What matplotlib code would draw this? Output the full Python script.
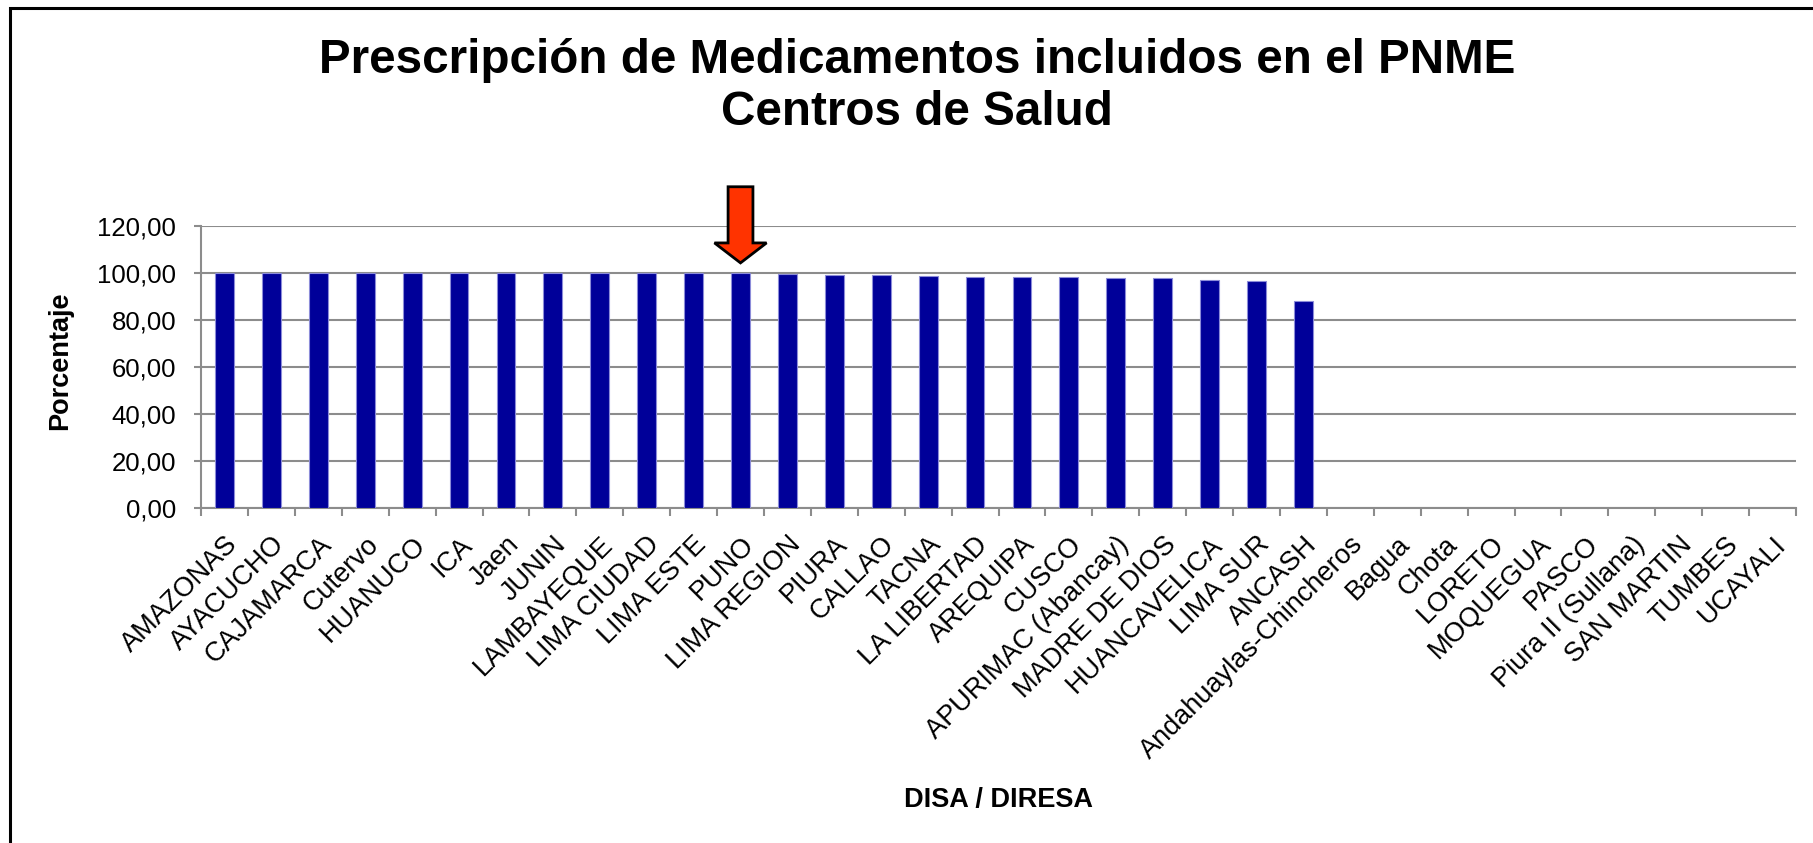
import matplotlib
matplotlib.use("Agg")
import matplotlib.pyplot as plt
from matplotlib.patches import Rectangle, FancyArrow
from matplotlib.ticker import FuncFormatter, MultipleLocator
import numpy as np

plt.rcParams['font.family'] = ['Liberation Sans', 'DejaVu Sans']

categories = ["AMAZONAS", "AYACUCHO", "CAJAMARCA", "Cutervo", "HUANUCO", "ICA", "Jaen",
              "JUNIN", "LAMBAYEQUE", "LIMA CIUDAD", "LIMA ESTE", "PUNO", "LIMA REGION",
              "PIURA", "CALLAO", "TACNA", "LA LIBERTAD", "AREQUIPA", "CUSCO",
              "APURIMAC (Abancay)", "MADRE DE DIOS", "HUANCAVELICA", "LIMA SUR", "ANCASH",
              "Andahuaylas-Chincheros", "Bagua", "Chota", "LORETO", "MOQUEGUA", "PASCO",
              "Piura II (Sullana)", "SAN MARTIN", "TUMBES", "UCAYALI"]
values = [100.0, 100.0, 100.0, 100.0, 100.0, 100.0, 100.0, 100.0, 100.0, 100.0, 100.0,
          100.0, 99.6, 99.2, 99.0, 98.9, 98.3, 98.1, 98.1, 97.9, 97.9, 97.0, 96.4, 87.9]
highlight = "PUNO"

title_1 = "Prescripción de Medicamentos incluidos en el PNME"
title_2 = "Centros de Salud"

fig = plt.figure(figsize=(18.13, 8.43), dpi=100)
ax = fig.add_axes([0.1109, 0.3974, 0.8797, 0.3345])

# outer chart frame (runs off the right and bottom edges)
fig.add_artist(Rectangle((10 / 1813, -0.05), 1.1, 1.05 - 8 / 843, transform=fig.transFigure,
                         fill=False, edgecolor="black", linewidth=2.2))

x = np.arange(len(values))
ax.bar(x, values, width=0.4, color="#000099", edgecolor="#8c8cd9", linewidth=0.8, zorder=3)

ax.set_xlim(-0.5, len(categories) - 0.5)
ax.set_ylim(0, 120)
ax.yaxis.set_major_locator(MultipleLocator(20))
ax.yaxis.set_major_formatter(FuncFormatter(lambda v, p: f"{v:.2f}".replace(".", ",")))
ax.grid(axis="y", color="#8c8c8c", linewidth=1.5, zorder=0)

ax.set_xticks(np.arange(len(categories)))
ax.set_xticklabels(categories, rotation=45, ha="right", va="top", rotation_mode="anchor")
ax.set_xticks(np.arange(len(categories) + 1) - 0.5, minor=True)
ax.tick_params(axis="x", which="major", length=0, pad=17, labelsize=19.5)
ax.tick_params(axis="x", which="minor", length=6, width=1.5, color="#8c8c8c")
ax.tick_params(axis="y", length=5, width=1.5, color="#8c8c8c", pad=13, labelsize=18.5)

for side in ["top", "right"]:
    ax.spines[side].set_visible(False)
for side in ["left", "bottom"]:
    ax.spines[side].set_color("#8c8c8c")
    ax.spines[side].set_linewidth(1.5)

# arrow pointing at the highlighted bar
hx = categories.index(highlight)
ax.add_patch(FancyArrow(hx, values[hx] + 36.7, 0, -32.4, width=0.53, head_width=1.11,
                        head_length=8.5, length_includes_head=True, facecolor="#ff3300",
                        edgecolor="black", linewidth=2, clip_on=False, zorder=5))

fig.text(0.506, 0.9288, title_1, ha="center", va="center", fontsize=34.3, fontweight="bold")
fig.text(0.506, 0.8671, title_2, ha="center", va="center", fontsize=34.3, fontweight="bold")
fig.text(0.033, 0.572, "Porcentaje", rotation=90, ha="center", va="center",
         fontsize=19.5, fontweight="bold")
fig.text(0.5505, 0.051, "DISA / DIRESA", ha="center", va="center", fontsize=19.5,
         fontweight="bold")

fig.savefig("out.png", dpi=100)
